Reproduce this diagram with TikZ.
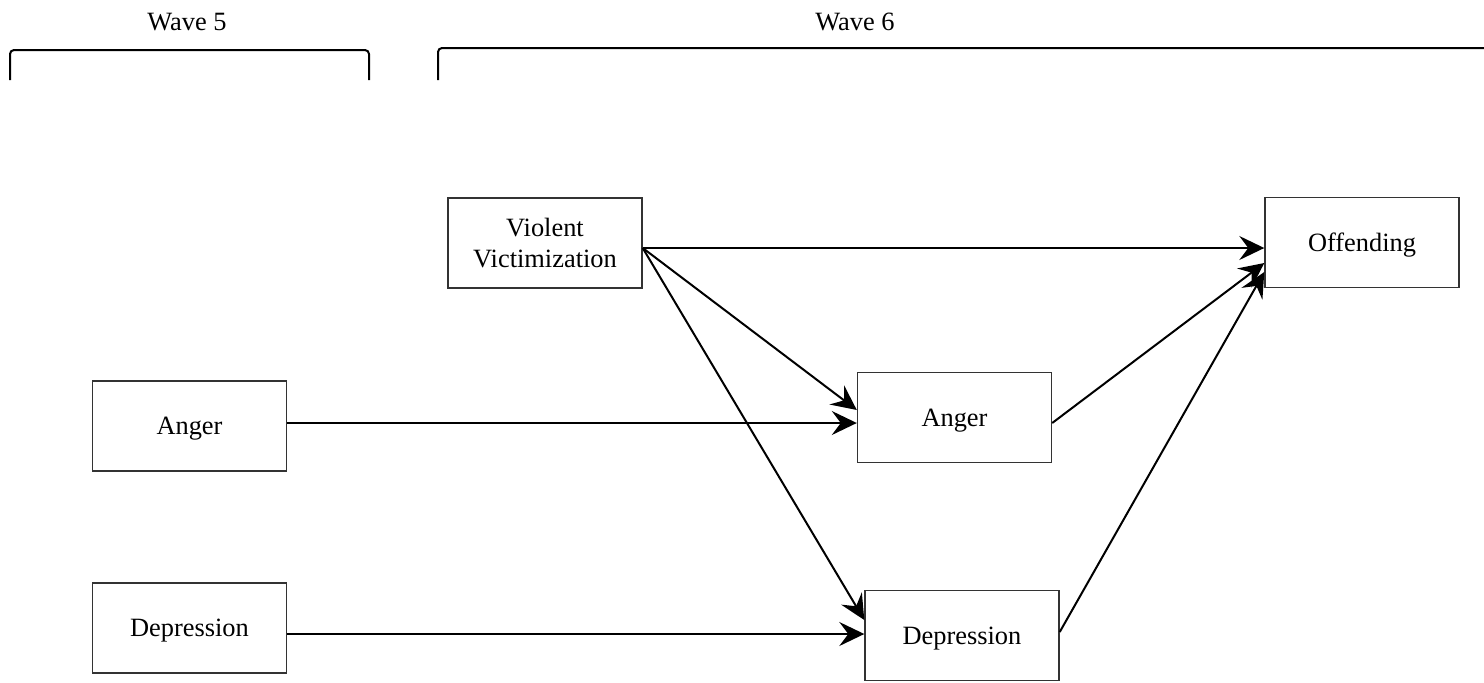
\documentclass[tikz,border=0pt]{standalone}
\usepackage{fontspec}
\setmainfont{Liberation Serif}
\usetikzlibrary{arrows.meta}
\begin{document}
\begin{tikzpicture}[x=0.5pt,y=-0.5pt,
  box/.style={draw=black!80,line width=0.7pt,minimum width=97pt,minimum height=45pt,inner sep=0pt,align=center,text depth=0pt,font=\fontsize{13.2}{15.5}\selectfont},
  conn/.style={line width=1pt,-{Stealth[length=12.5pt,width=12pt,inset=4.5pt]}},
  brk/.style={line width=1pt,rounded corners=2pt},
  lbl/.style={font=\fontsize{13.2}{15.5}\selectfont,inner sep=0pt}]
\useasboundingbox (0,0) rectangle (1484,682);
% labels
\node[lbl] (w5) at (187,22) {Wave 5};
\node[lbl] (w6) at (855,22) {Wave 6};
% brackets
\draw[brk] (10,80) -- (10,50) -- (369,50) -- (369,80);
\draw[brk] (438,80) -- (438,48) -- (1500,48);
% boxes
\node[box] (vv) at (545,243) {Violent\\Victimization};
\node[box] (off) at (1362,242.5) {Offending};
\node[box] (ang6) at (954.5,417.5) {Anger};
\node[box] (dep6) at (962,635.5) {Depression};
\node[box] (ang5) at (189.5,426) {Anger};
\node[box] (dep5) at (189.5,628) {Depression};
% connectors
\coordinate (vvo) at ([yshift=-2.5pt]vv.east);
\draw[conn] (vvo) -- (off.west |- vvo);
\draw[conn] (vvo) -- ([yshift=3.75pt]ang6.west);
\draw[conn] (vvo) -- ([yshift=7.75pt]dep6.west);
\coordinate (a5o) at ([yshift=1.5pt]ang5.east);
\draw[conn] (a5o) -- (ang6.west |- a5o);
\coordinate (d5o) at ([yshift=-3pt]dep5.east);
\draw[conn] (d5o) -- (dep6.west |- d5o);
\draw[conn] ([yshift=-2.75pt]ang6.east) -- ([yshift=-10.25pt]off.west);
\draw[conn] ([yshift=1.75pt]dep6.east) -- ([yshift=-14.75pt]off.west);
\end{tikzpicture}
\end{document}
